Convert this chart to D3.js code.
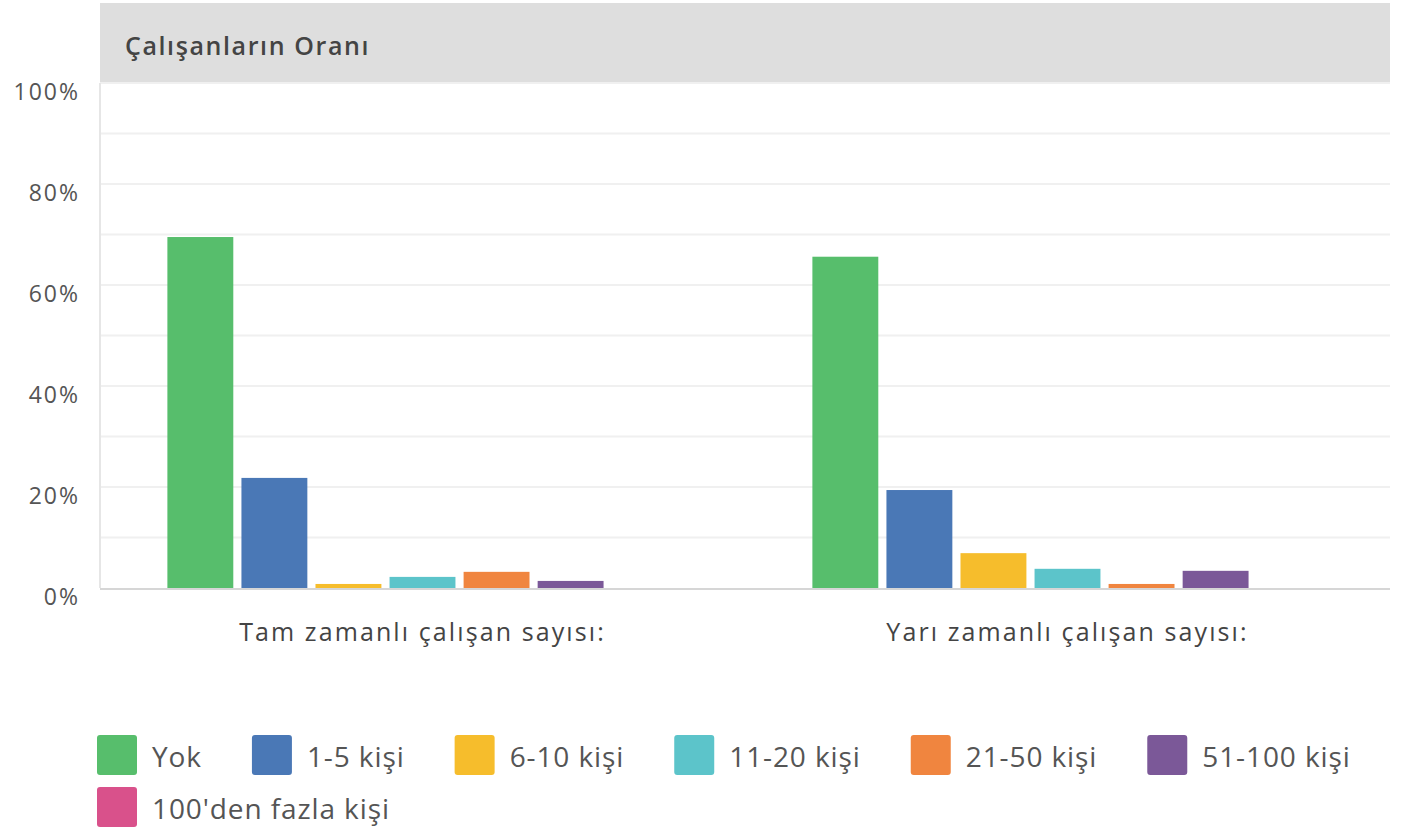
<!DOCTYPE html>
<html>
<head>
<meta charset="utf-8">
<script src="https://cdn.jsdelivr.net/npm/d3@7"></script>
<style>
  body { margin: 0; background: #fff; }
  svg text { font-family: "Open Sans", sans-serif; }
</style>
</head>
<body>
<div id="chart"></div>
<script>
var groups = ["Tam zamanlı çalışan sayısı:", "Yarı zamanlı çalışan sayısı:"];
var series = ["Yok", "1-5 kişi", "6-10 kişi", "11-20 kişi", "21-50 kişi", "51-100 kişi", "100'den fazla kişi"];
var colorsList = ["#57be6c", "#4a78b6", "#f6bd2c", "#5cc4ca", "#f0853f", "#7b5898", "#d9518b"];
var fullTime = [69.5, 21.8, 0.8, 2.2, 3.2, 1.4, 0];
var partTime = [65.6, 19.4, 6.9, 3.8, 0.8, 3.4, 0];
var yTicks = [0, 20, 40, 60, 80, 100];
var title = "Çalışanların Oranı";

var width = 1402, height = 832;
var margin = { left: 100, right: 12, top: 83, bottom: 244 };

var svg = d3.select("#chart").append("svg")
  .attr("width", width)
  .attr("height", height);

var plotW = width - margin.left - margin.right;
var plotBottom = height - margin.bottom;

var y = d3.scaleLinear().domain([0, 100]).range([plotBottom, margin.top]);

var x0 = d3.scaleBand()
  .domain(groups)
  .range([margin.left, margin.left + plotW]);

var x1 = d3.scaleBand()
  .domain(series)
  .range([0, x0.bandwidth()])
  .paddingInner(0.11)
  .paddingOuter(0.91);

var color = d3.scaleOrdinal().domain(series).range(colorsList);

// title band
svg.append("rect")
  .attr("x", margin.left)
  .attr("y", 3)
  .attr("width", plotW)
  .attr("height", margin.top - 3)
  .attr("fill", "#dedede");

svg.append("text")
  .attr("x", margin.left + 25)
  .attr("y", 55)
  .attr("fill", "#444")
  .attr("font-size", 25)
  .attr("font-weight", 600)
  .attr("letter-spacing", 1.6)
  .text(title);

// grid every 10%
svg.append("g")
  .selectAll("line")
  .data(d3.range(10, 101, 10))
  .enter()
  .append("line")
  .attr("x1", margin.left)
  .attr("x2", margin.left + plotW)
  .attr("y1", function (d) { return y(d); })
  .attr("y2", function (d) { return y(d); })
  .attr("stroke", "#f0f0f0")
  .attr("stroke-width", 2);

// left edge
svg.append("line")
  .attr("x1", margin.left)
  .attr("x2", margin.left)
  .attr("y1", margin.top)
  .attr("y2", plotBottom)
  .attr("stroke", "#e6e6e6")
  .attr("stroke-width", 2);

// y axis
var yAxis = svg.append("g")
  .attr("transform", "translate(" + (margin.left - 17) + ",9)")
  .call(d3.axisLeft(y).tickValues(yTicks).tickSize(0).tickFormat(function (d) { return d + "%"; }));
yAxis.select(".domain").remove();
yAxis.selectAll("text")
  .attr("fill", "#555")
  .attr("font-size", 23)
  .attr("letter-spacing", 2)
  .attr("font-family", "Open Sans, sans-serif");

// bars
var data = [fullTime, partTime];
var grp = svg.selectAll(".grp")
  .data(groups)
  .enter()
  .append("g")
  .attr("class", "grp")
  .attr("transform", function (d) { return "translate(" + x0(d) + ",0)"; });

grp.selectAll("rect")
  .data(function (d, i) {
    return series.map(function (s, j) { return { key: s, value: data[i][j] }; });
  })
  .enter()
  .append("rect")
  .attr("x", function (d) { return x1(d.key); })
  .attr("width", x1.bandwidth())
  .attr("y", function (d) { return y(d.value); })
  .attr("height", function (d) { return plotBottom - y(d.value); })
  .attr("fill", function (d) { return color(d.key); });

// baseline
svg.append("line")
  .attr("x1", margin.left)
  .attr("x2", margin.left + plotW)
  .attr("y1", plotBottom + 1)
  .attr("y2", plotBottom + 1)
  .attr("stroke", "#d6d6d6")
  .attr("stroke-width", 2);

// x axis labels
var xAxis = svg.append("g")
  .attr("transform", "translate(0," + (plotBottom + 32) + ")")
  .call(d3.axisBottom(x0).tickSize(0));
xAxis.select(".domain").remove();
xAxis.selectAll("text")
  .attr("fill", "#444")
  .attr("font-size", 25)
  .attr("letter-spacing", 2.1)
  .attr("font-family", "Open Sans, sans-serif");

// legend
var legend = svg.append("g");
var lx = 97, ly = 735, rowH = 52, maxX = 1390;
series.forEach(function (s) {
  var item = legend.append("g");
  item.append("rect")
    .attr("width", 40)
    .attr("height", 40)
    .attr("rx", 3)
    .attr("fill", color(s));
  var t = item.append("text")
    .attr("x", 55)
    .attr("y", 32)
    .attr("font-size", 28)
    .attr("letter-spacing", 0.9)
    .attr("fill", "#555")
    .text(s);
  var w = 55 + t.node().getComputedTextLength();
  if (lx + w > maxX) {
    lx = 97;
    ly += rowH;
  }
  item.attr("transform", "translate(" + lx + "," + ly + ")");
  lx += w + 50;
});
</script>
</body>
</html>
